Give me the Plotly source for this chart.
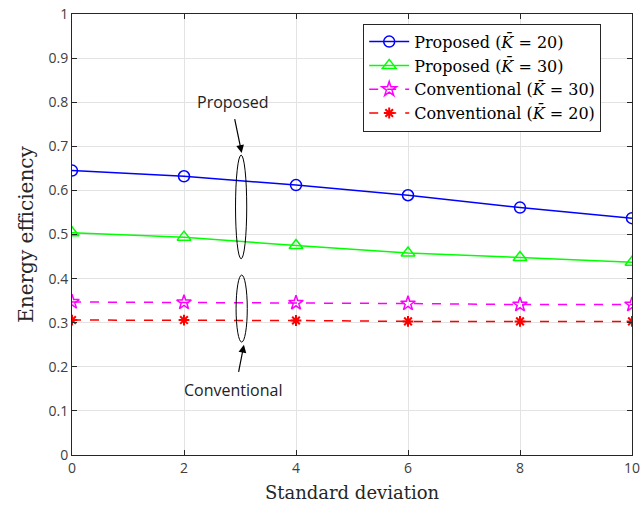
import plotly.graph_objects as go

x = [0, 2, 4, 6, 8, 10]
prop20 = [0.645, 0.632, 0.612, 0.589, 0.561, 0.537]
prop30 = [0.504, 0.494, 0.475, 0.458, 0.448, 0.437]
conv30 = [0.347, 0.346, 0.345, 0.3435, 0.341, 0.341]
conv20 = [0.306, 0.306, 0.305, 0.303, 0.303, 0.303]

names = ["Proposed (<i>K̄</i> = 20)", "Proposed (<i>K̄</i> = 30)",
         "Conventional (<i>K̄</i> = 30)", "Conventional (<i>K̄</i> = 20)"]

fig = go.Figure()
fig.add_trace(go.Scatter(x=x, y=prop20, name=names[0], mode="lines+markers",
    line=dict(color="#0000ff", width=1.5),
    marker=dict(symbol="circle-open", size=11, color="#0000ff", line=dict(width=1.5))))
fig.add_trace(go.Scatter(x=x, y=prop30, name=names[1], mode="lines+markers",
    line=dict(color="#00ff00", width=1.5),
    marker=dict(symbol="triangle-up-open", size=12, color="#00ff00", line=dict(width=1.5))))
fig.add_trace(go.Scatter(x=x, y=conv30, name=names[2], mode="lines+markers",
    line=dict(color="#ff00ff", width=1.5, dash="dash"),
    marker=dict(symbol="star-open", size=11, color="#ff00ff", line=dict(width=1.5))))
fig.add_trace(go.Scatter(x=x, y=conv20, name=names[3], mode="lines+markers",
    line=dict(color="#ff0000", width=1.5, dash="dash"),
    marker=dict(symbol="asterisk-open", size=9, color="#ff0000", line=dict(width=2))))

# ellipses
fig.add_shape(type="circle", xref="x", yref="y", x0=2.92, x1=3.12, y0=0.445, y1=0.68,
              line=dict(color="black", width=1))
fig.add_shape(type="circle", xref="x", yref="y", x0=2.93, x1=3.13, y0=0.256, y1=0.408,
              line=dict(color="black", width=1))

fig.add_annotation(x=3.03, y=0.685, ax=2.9, ay=0.765, xref="x", yref="y", axref="x", ayref="y",
                   text="", showarrow=True, arrowhead=2, arrowsize=1.3, arrowwidth=1.2, arrowcolor="black")
fig.add_annotation(x=2.88, y=0.80, xref="x", yref="y", text="Proposed", showarrow=False,
                   font=dict(family="Open Sans, sans-serif", size=16, color="#222"))
fig.add_annotation(x=3.07, y=0.25, ax=2.97, ay=0.185, xref="x", yref="y", axref="x", ayref="y",
                   text="", showarrow=True, arrowhead=2, arrowsize=1.3, arrowwidth=1.2, arrowcolor="black")
fig.add_annotation(x=2.88, y=0.147, xref="x", yref="y", text="Conventional", showarrow=False,
                   font=dict(family="Open Sans, sans-serif", size=16, color="#222"))

axis_common = dict(showgrid=True, gridcolor="#e3e3e3", gridwidth=1, showline=True,
                   linecolor="#262626", linewidth=1, mirror="ticks", ticks="inside",
                   ticklen=5, tickcolor="#262626", zeroline=False,
                   ticklabeloverflow="allow",
                   tickfont=dict(family="Open Sans, sans-serif", size=14, color="#404040"))

fig.update_xaxes(range=[0, 10], tickvals=[0, 2, 4, 6, 8, 10], **axis_common,
                 title=dict(text="Standard deviation", standoff=10,
                            font=dict(family="DejaVu Serif, serif", size=18, color="#262626")))
fig.update_yaxes(range=[0, 1], tickvals=[0, 0.1, 0.2, 0.3, 0.4, 0.5, 0.6, 0.7, 0.8, 0.9, 1],
                 ticktext=["0", "0.1", "0.2", "0.3", "0.4", "0.5", "0.6", "0.7", "0.8", "0.9", "1"],
                 **axis_common,
                 title=dict(text="Energy efficiency", standoff=9,
                            font=dict(family="DejaVu Serif, serif", size=20, color="#262626")))

fig.update_layout(
    width=641, height=508, plot_bgcolor="white", paper_bgcolor="white",
    margin=dict(l=72, r=1, t=14, b=53),
    legend=dict(x=0.52, y=0.978, xanchor="left", yanchor="top",
                bgcolor="white", bordercolor="#262626", borderwidth=1,
                font=dict(family="DejaVu Serif, serif", size=16, color="black"),
                tracegroupgap=0, itemwidth=40),
    showlegend=True,
)

fig.write_html("out.html")
